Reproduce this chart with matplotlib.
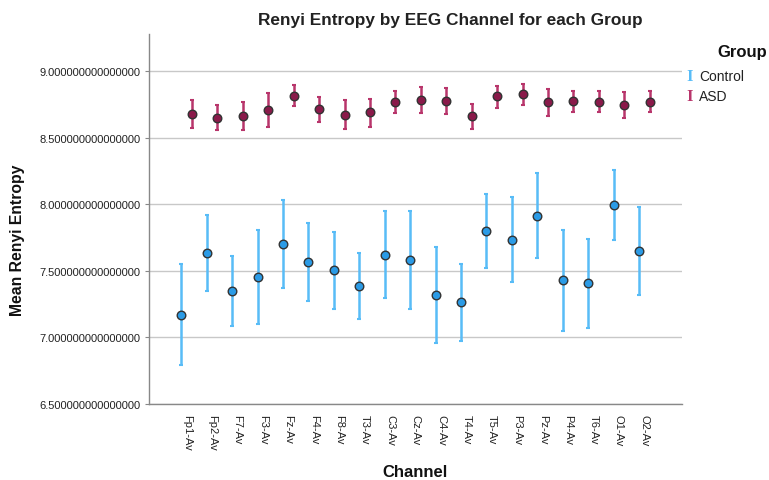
import matplotlib
matplotlib.use("Agg")
import matplotlib.pyplot as plt
import numpy as np
from matplotlib.ticker import FormatStrFormatter

plt.rcParams['font.family'] = ['Liberation Sans', 'DejaVu Sans']

channels = ["Fp1-Av", "Fp2-Av", "F7-Av", "F3-Av", "Fz-Av", "F4-Av", "F8-Av", "T3-Av",
            "C3-Av", "Cz-Av", "C4-Av", "T4-Av", "T5-Av", "P3-Av", "Pz-Av", "P4-Av",
            "T6-Av", "O1-Av", "O2-Av"]

control_mean = [7.171, 7.636, 7.346, 7.453, 7.704, 7.566, 7.504, 7.389, 7.621, 7.584,
                7.316, 7.263, 7.799, 7.734, 7.911, 7.431, 7.406, 7.994, 7.649]
control_low = [6.795, 7.348, 7.086, 7.101, 7.373, 7.276, 7.213, 7.141, 7.298, 7.216,
               6.960, 6.973, 7.519, 7.413, 7.594, 7.048, 7.073, 7.729, 7.316]
control_high = [7.551, 7.921, 7.611, 7.809, 8.034, 7.857, 7.794, 7.636, 7.946, 7.951,
                7.676, 7.553, 8.079, 8.052, 8.232, 7.809, 7.739, 8.259, 7.979]

asd_mean = [8.674, 8.650, 8.662, 8.707, 8.815, 8.712, 8.672, 8.690, 8.767, 8.782,
            8.777, 8.659, 8.810, 8.825, 8.767, 8.772, 8.770, 8.745, 8.770]
asd_low = [8.570, 8.555, 8.555, 8.580, 8.734, 8.620, 8.562, 8.580, 8.687, 8.687,
           8.677, 8.562, 8.725, 8.742, 8.662, 8.692, 8.690, 8.650, 8.690]
asd_high = [8.785, 8.742, 8.767, 8.835, 8.892, 8.805, 8.782, 8.790, 8.847, 8.877,
            8.872, 8.755, 8.890, 8.902, 8.862, 8.850, 8.847, 8.840, 8.850]

y_ticks = [6.5, 7.0, 7.5, 8.0, 8.5, 9.0]

groups = [
    ("Control", control_mean, control_low, control_high, "#58bcf7", "#2b9be6", -0.21),
    ("ASD", asd_mean, asd_low, asd_high, "#b8356b", "#8a1a4a", 0.21),
]

fig = plt.figure(figsize=(7.69, 4.81), dpi=100)
ax = fig.add_axes([149 / 769, 1 - 405 / 481, 533 / 769, 370 / 481])

x = np.arange(len(channels))
for name, mean, low, high, ecol, fcol, off in groups:
    mean = np.array(mean)
    yerr = np.vstack([mean - np.array(low), np.array(high) - mean])
    ax.errorbar(x + off, mean, yerr=yerr, fmt='none', ecolor=ecol, elinewidth=1.8,
                capsize=1.5, capthick=1.5, zorder=3)
    ax.scatter(x + off, mean, s=38, facecolor=fcol, edgecolor="#333333",
               linewidth=1.0, zorder=4)

ax.set_xlim(-1.48, len(channels) - 1 + 1.48)
ax.set_ylim(6.5, 9.278)
ax.set_yticks(y_ticks)
ax.yaxis.set_major_formatter(FormatStrFormatter('%.15f'))
ax.set_xticks(x)
ax.set_xticklabels(channels, rotation=-90, fontsize=8, color="#222222")
ax.tick_params(axis='x', length=0, pad=7)
ax.tick_params(axis='y', length=3, color="#888888", labelsize=8, labelcolor="#222222", pad=3)

ax.grid(axis='y', color="#c8c8c8", linewidth=1.0, zorder=0)
ax.set_axisbelow(True)
for side in ('top', 'right'):
    ax.spines[side].set_visible(False)
for side in ('left', 'bottom'):
    ax.spines[side].set_color("#888888")
    ax.spines[side].set_linewidth(1.0)

fig.text(450 / 769, 1 - 20 / 481, "Renyi Entropy by EEG Channel for each Group",
         ha='center', va='center', fontsize=12.4, fontweight='bold', color="#222222")
fig.text(18 / 769, 1 - 240 / 481, "Mean Renyi Entropy", rotation=90, ha='center',
         va='center', fontsize=11.3, fontweight='bold', color="#111111")
fig.text(415 / 769, 1 - 473 / 481, "Channel", ha='center', va='center',
         fontsize=12, fontweight='bold', color="#111111")

# legend
fig.text(742 / 769, 1 - 52 / 481, "Group", ha='center', va='center',
         fontsize=12, fontweight='bold', color="#111111")
for i, (name, mean, low, high, ecol, fcol, off) in enumerate(groups):
    yy = 1 - (77 + 20 * i) / 481
    fig.text(690 / 769, yy, "I", ha='center', va='center', fontsize=12,
             family=['Liberation Serif', 'DejaVu Serif'], color=ecol, fontweight='bold')
    fig.text(699 / 769, yy, name, ha='left', va='center', fontsize=10, color="#222222")

fig.savefig("out.png", dpi=100)
